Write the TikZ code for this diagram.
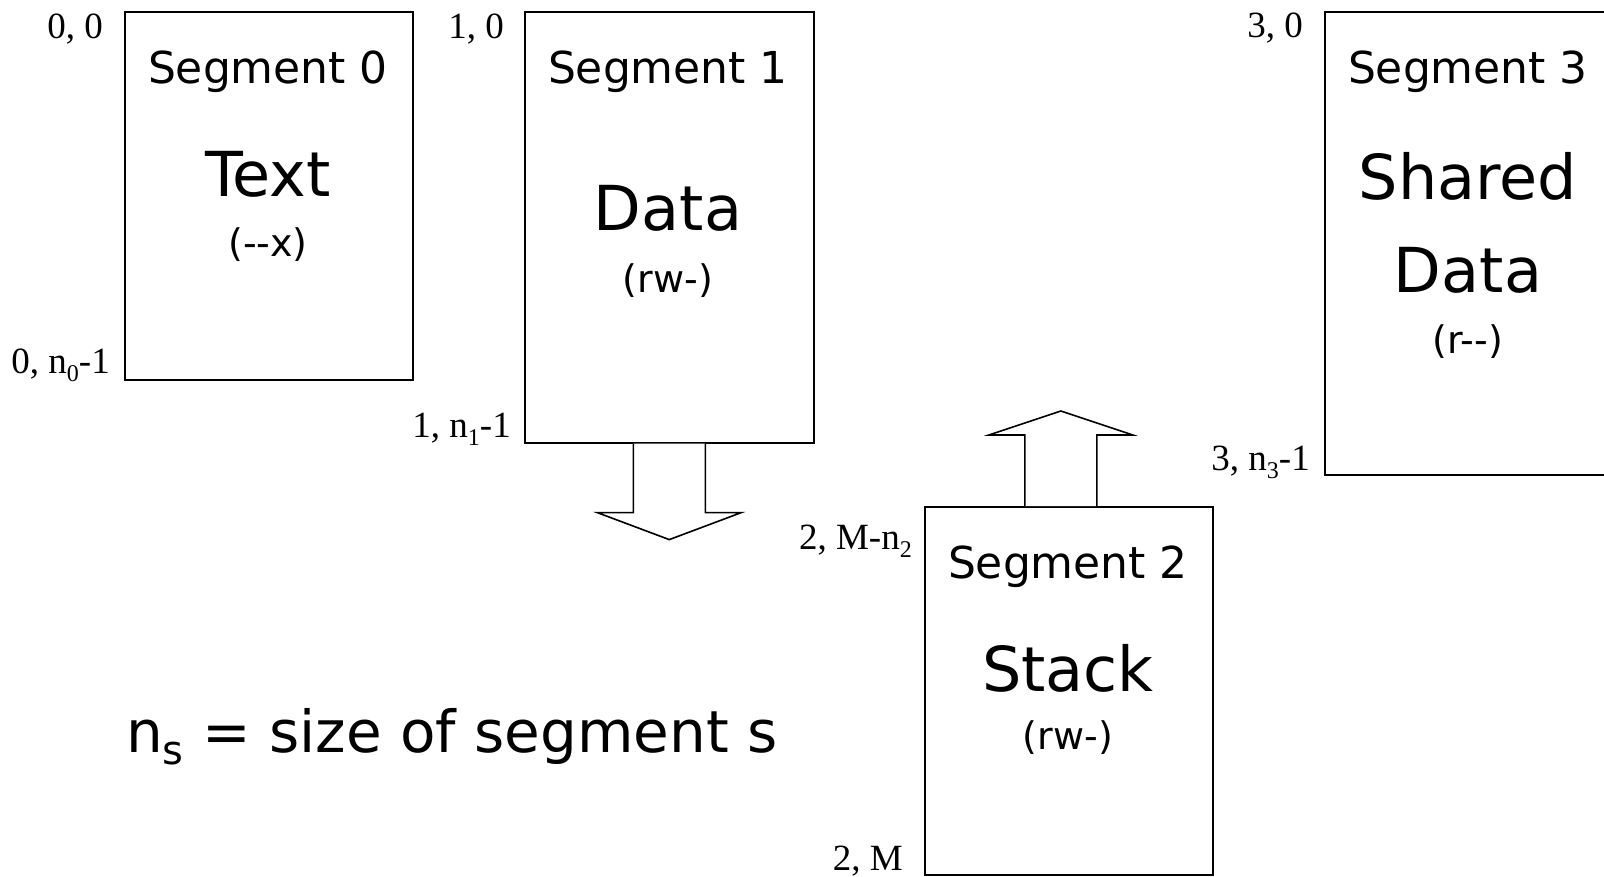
\documentclass[tikz,border=0pt]{standalone}
\usepackage{fontspec}
\setmainfont{Liberation Serif}
\newfontfamily\handfont{DejaVu Sans}
\usetikzlibrary{calc}

% subscript set in the current font
\newcommand{\lowsub}[2]{\raisebox{-0.22em}{\fontsize{#1}{#1}\selectfont #2}}

\tikzset{
  segbox/.style={draw, line width=1.6pt, inner sep=0pt, anchor=north west},
  segtitle/.style={anchor=base, inner sep=0pt, font=\handfont\fontsize{44}{44}\selectfont},
  segname/.style={anchor=base, inner sep=0pt, font=\handfont\fontsize{62}{62}\selectfont},
  segperm/.style={anchor=base, inner sep=0pt, font=\handfont\fontsize{38}{38}\selectfont},
  addr/.style={anchor=base east, inner sep=0pt, font=\fontsize{37}{37}\selectfont},
  blockarrow/.style={draw, fill=white, line width=1.6pt, line join=miter},
  note/.style={anchor=base west, inner sep=0pt, font=\handfont\fontsize{58}{58}\selectfont}
}

\begin{document}
\begin{tikzpicture}[x=1pt, y=-1pt]
\useasboundingbox (0,0) rectangle (1604,876);

% segment boxes
\node[segbox, minimum width=288pt, minimum height=368pt] (s0) at (124,11) {};
\node[segbox, minimum width=289pt, minimum height=431pt] (s1) at (524,11) {};
\node[segbox, minimum width=288pt, minimum height=368pt] (s2) at (924,506) {};
\node[segbox, minimum width=288pt, minimum height=463pt] (s3) at (1324,11) {};

% segment 0
\node[segtitle] (t0) at (268,83) {Segment 0};
\node[segname]  (n0) at (268,196) {Text};
\node[segperm]  (p0) at (268,256) {(--x)};
\node[addr] (a0top) at (103,38) {0, 0};
\node[addr] (a0bot) at (110,373) {0, n\lowsub{24}{0}-1};

% segment 1
\node[segtitle] (t1) at (668,83) {Segment 1};
\node[segname]  (n1) at (668,230) {Data};
\node[segperm]  (p1) at (668,292) {(rw-)};
\node[addr] (a1top) at (504,38) {1, 0};
\node[addr] (a1bot) at (511,437) {1, n\lowsub{24}{1}-1};

% segment 2
\node[segtitle] (t2) at (1068,578) {Segment 2};
\node[segname]  (n2) at (1068,691) {Stack};
\node[segperm]  (p2) at (1068,749) {(rw-)};
\node[addr] (a2top) at (912,549) {2, M-n\lowsub{24}{2}};
\node[addr] (a2bot) at (903,870) {2, M};

% segment 3
\node[segtitle] (t3) at (1468,83) {Segment 3};
\node[segname]  (n3a) at (1468,199) {Shared};
\node[segname]  (n3b) at (1468,292) {Data};
\node[segperm]  (p3) at (1468,353) {(r--)};
\node[addr] (a3top) at (1303,37) {3, 0};
\node[addr] (a3bot) at (1310,470) {3, n\lowsub{24}{3}-1};

% growth directions: data grows down, stack grows up
\coordinate (d1) at (s1.south);
\draw[blockarrow] (d1) +(-36,0) -- +(-36,69) -- +(-72,69) -- +(0,96)
  -- +(72,69) -- +(36,69) -- +(36,0);
\coordinate (u2) at ($(s2.north)+(-8,0)$);
\draw[blockarrow] (u2) +(-36,0) -- +(-36,-71) -- +(-72,-71) -- +(0,-95)
  -- +(72,-71) -- +(36,-71) -- +(36,0);

% legend
\node[note] (legend) at (126,752) {n\lowsub{40}{s} = size of segment s};
\end{tikzpicture}
\end{document}
